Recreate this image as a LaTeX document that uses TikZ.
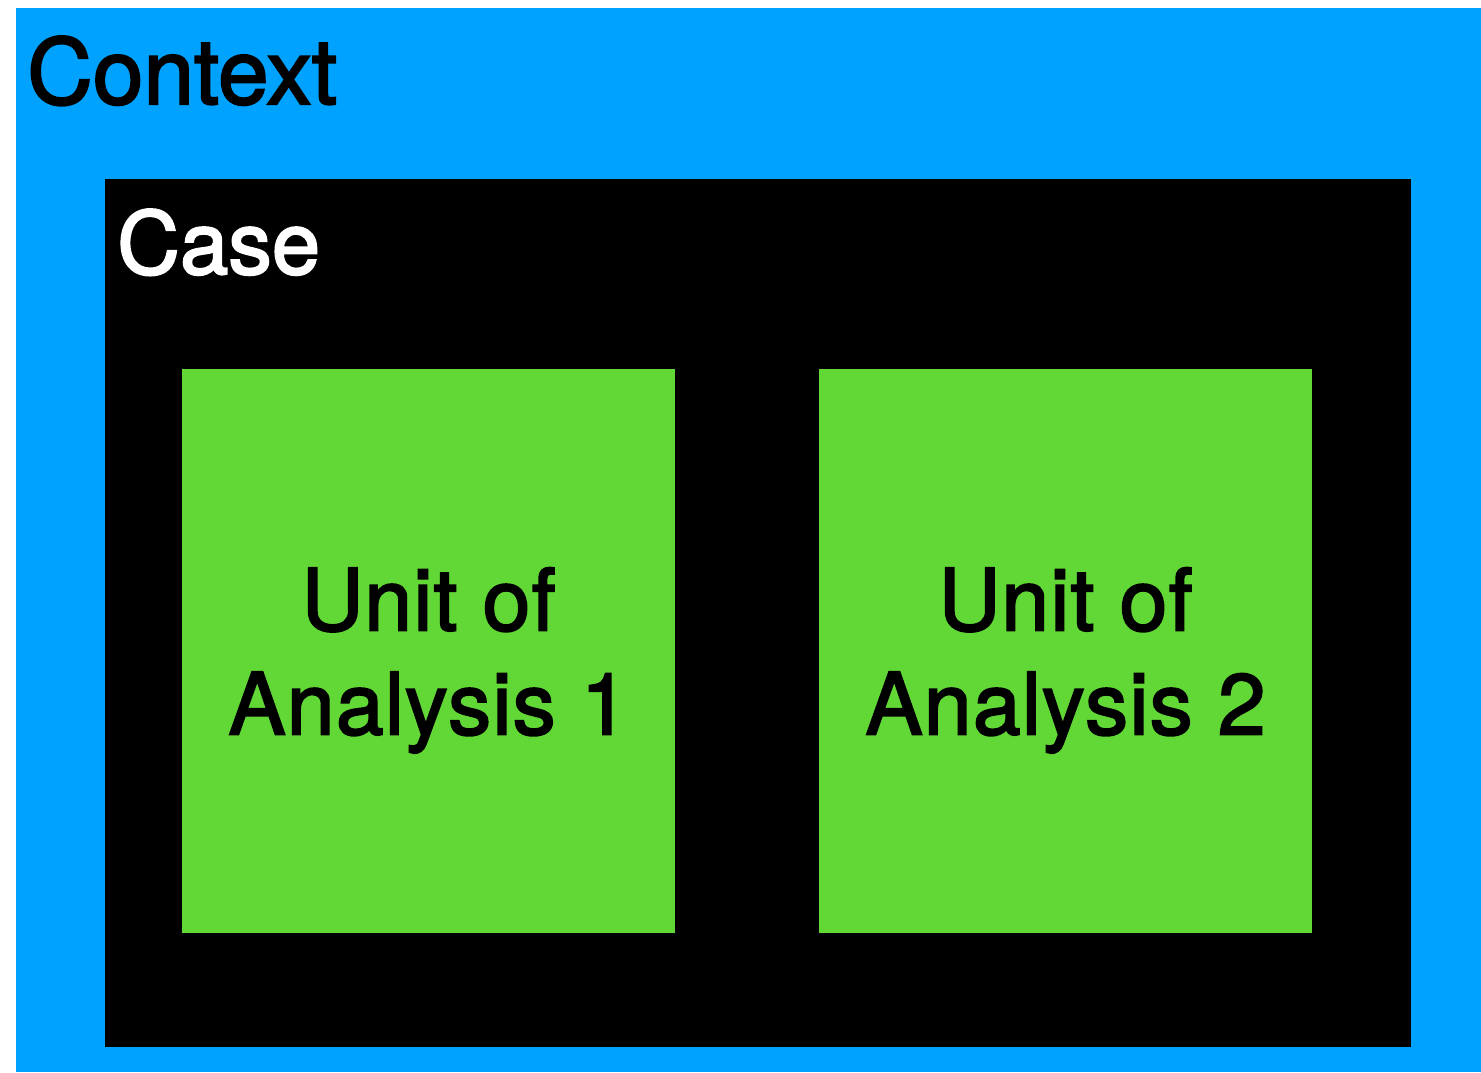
\documentclass[tikz,border=0pt]{standalone}
\usepackage{fontspec}
\setmainfont{TeX Gyre Heros}[FakeBold=2.2]
\definecolor{ctxblue}{HTML}{00A2FF}
\definecolor{unitgreen}{HTML}{61D836}
\begin{document}
\begin{tikzpicture}[x=1pt,y=-1pt,
  box/.style={draw=none,inner sep=0pt,outer sep=0pt,anchor=north west},
  title/.style={inner sep=0pt,anchor=base west},
  unit/.style={box,fill=unitgreen,minimum width=493pt,minimum height=564pt,
    text depth=0pt,align=center,
    font=\fontsize{86}{104}\selectfont\addfontfeatures{LetterSpace=1.4}}]
  \useasboundingbox (0,0) rectangle (1481,1072);
  % nested frames: context, case, units of analysis
  \node[box,fill=ctxblue,minimum width=1465pt,minimum height=1064pt] (context) at (16,8) {};
  \node[box,fill=black,minimum width=1306pt,minimum height=868pt] (case) at (105,179) {};
  \node[unit] (unit1) at (182,369) {Unit of\\Analysis 1};
  \node[unit] (unit2) at (819,369) {Unit of\\Analysis 2};
  % frame titles
  \node[title,text=black,font=\fontsize{91}{100}\selectfont] (contextlabel) at (27,104) {Context};
  \node[title,text=white,font=\fontsize{87}{100}\selectfont] (caselabel) at (117,274) {Case};
\end{tikzpicture}
\end{document}
